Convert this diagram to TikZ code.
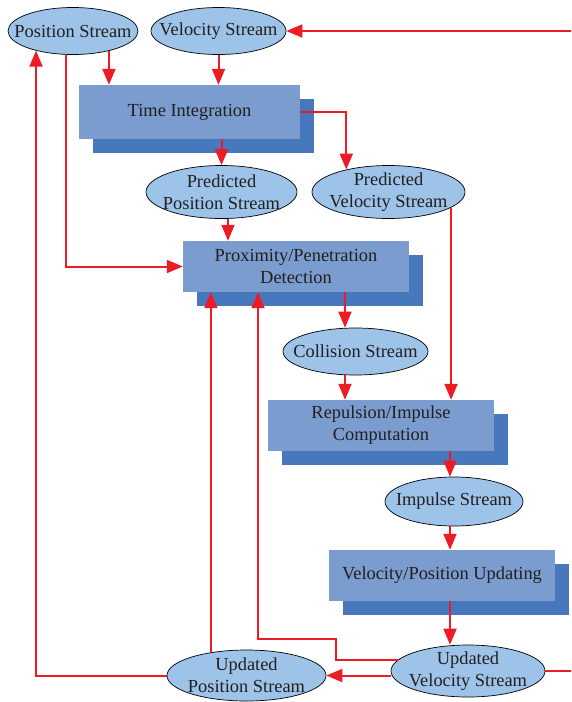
\documentclass[tikz,border=0pt]{standalone}
\usepackage{fontspec}
\setmainfont{Liberation Serif}
\usetikzlibrary{shapes.geometric,shadows,arrows.meta}
\definecolor{streamfill}{RGB}{157,195,233}
\definecolor{boxfront}{RGB}{122,156,206}
\definecolor{boxback}{RGB}{71,119,188}
\definecolor{flowred}{RGB}{237,28,36}
\definecolor{labelgray}{RGB}{35,31,32}

\begin{document}
\begin{tikzpicture}[
  x=1pt, y=-1pt,
  stream/.style={ellipse, draw=black, line width=0.7pt, fill=streamfill,
    inner xsep=-14pt, inner ysep=-8pt, align=center, text=labelgray,
    font=\fontsize{18.4}{22}\selectfont},
  stage/.style={rectangle, fill=boxfront, inner sep=0pt, align=center,
    text=labelgray, font=\fontsize{18.4}{22}\selectfont,
    minimum width=226pt, minimum height=51pt,
    drop shadow={shadow xshift=14pt, shadow yshift=-14pt, fill=boxback, opacity=1}},
  flow/.style={draw=flowred, line width=2pt, -{Triangle[length=16pt,width=13pt]}},
  flow line/.style={draw=flowred, line width=2pt}
]
  \useasboundingbox (0,0) rectangle (571,702);

  % Processing stages (boxes with shadow)
  \node[stage, minimum width=221pt, minimum height=54pt] (ti) at (189.5,112) {Time Integration};
  \node[stage] (ppd) at (296,266.5) {Proximity/Penetration\\Detection};
  \node[stage] (ric) at (381,425.5) {Repulsion/Impulse\\Computation};
  \node[stage] (vpu) at (442,575.5) {Velocity/Position Updating};

  % Data streams (ellipses)
  \node[stream, minimum width=130pt, minimum height=47pt] (ps) at (73,31) {Position Stream};
  \node[stream, minimum width=135pt, minimum height=47pt] (vs) at (218.5,31) {Velocity Stream};
  \node[stream, minimum width=151pt, minimum height=53pt] (pps) at (221.5,192) {Predicted\\Position Stream};
  \node[stream, minimum width=153pt, minimum height=53pt] (pvs) at (388.5,192) {Predicted\\Velocity Stream};
  \node[stream, minimum width=145pt, minimum height=47pt] (cs) at (355.5,351.5) {Collision Stream};
  \node[stream, minimum width=138pt, minimum height=49pt] (is) at (454,501.5) {Impulse Stream};
  \node[stream, minimum width=154pt, minimum height=52pt] (uvs) at (468,671) {Updated\\Velocity Stream};
  \node[stream, minimum width=159pt, minimum height=51pt] (ups) at (246.5,675.5) {Updated\\Position Stream};

  % Loose ends at the right margin
  \coordinate (inR) at (571,31);
  \coordinate (outR) at (571,671);

  % Inputs of the time integration
  \draw[flow] (ps.-29.5) -- (ps.-29.5 |- ti.north);
  \draw[flow] (vs.south) -- (vs.south |- ti.north);
  \draw[flow] (inR) -- (vs.east);

  % Predicted streams
  \draw[flow] (ti.south -| pps.north) -- (pps.north);
  \draw[flow] (ti.east) -| (pvs.152.6);

  % Proximity detection
  \draw[flow] ([xshift=-7pt]ps.south) |- (ppd.west);
  \draw[flow] ([xshift=6.5pt]pps.south) -- ([xshift=-68pt]ppd.north);
  \draw[flow] ([xshift=49pt]ppd.south) -- ([xshift=-10.5pt]cs.north);

  % Impulse computation and update
  \draw[flow] (pvs.-14.4) -- (pvs.-14.4 |- ric.north);
  \draw[flow] ([xshift=-10.5pt]cs.south) -- ([xshift=-36pt]ric.north);
  \draw[flow] ([xshift=69pt]ric.south) -- ([xshift=-4pt]is.north);
  \draw[flow] ([xshift=-4pt]is.south) -- ([xshift=8pt]vpu.north);
  \draw[flow] ([xshift=8pt]vpu.south) -- ([xshift=-18pt]uvs.north);

  % Feedback of the updated streams
  \draw[flow] (uvs.west |- ups.east) -- (ups.east);
  \draw[flow line] (uvs.east) -- (outR);
  \draw[flow] (uvs.171) -| (336,639) -| ([xshift=-38pt]ppd.south);
  \draw[flow] (ups.147.3) -- (ups.147.3 |- ppd.south);
  \draw[flow] (ups.west) -| (ps.208.6);

\end{tikzpicture}
\end{document}
